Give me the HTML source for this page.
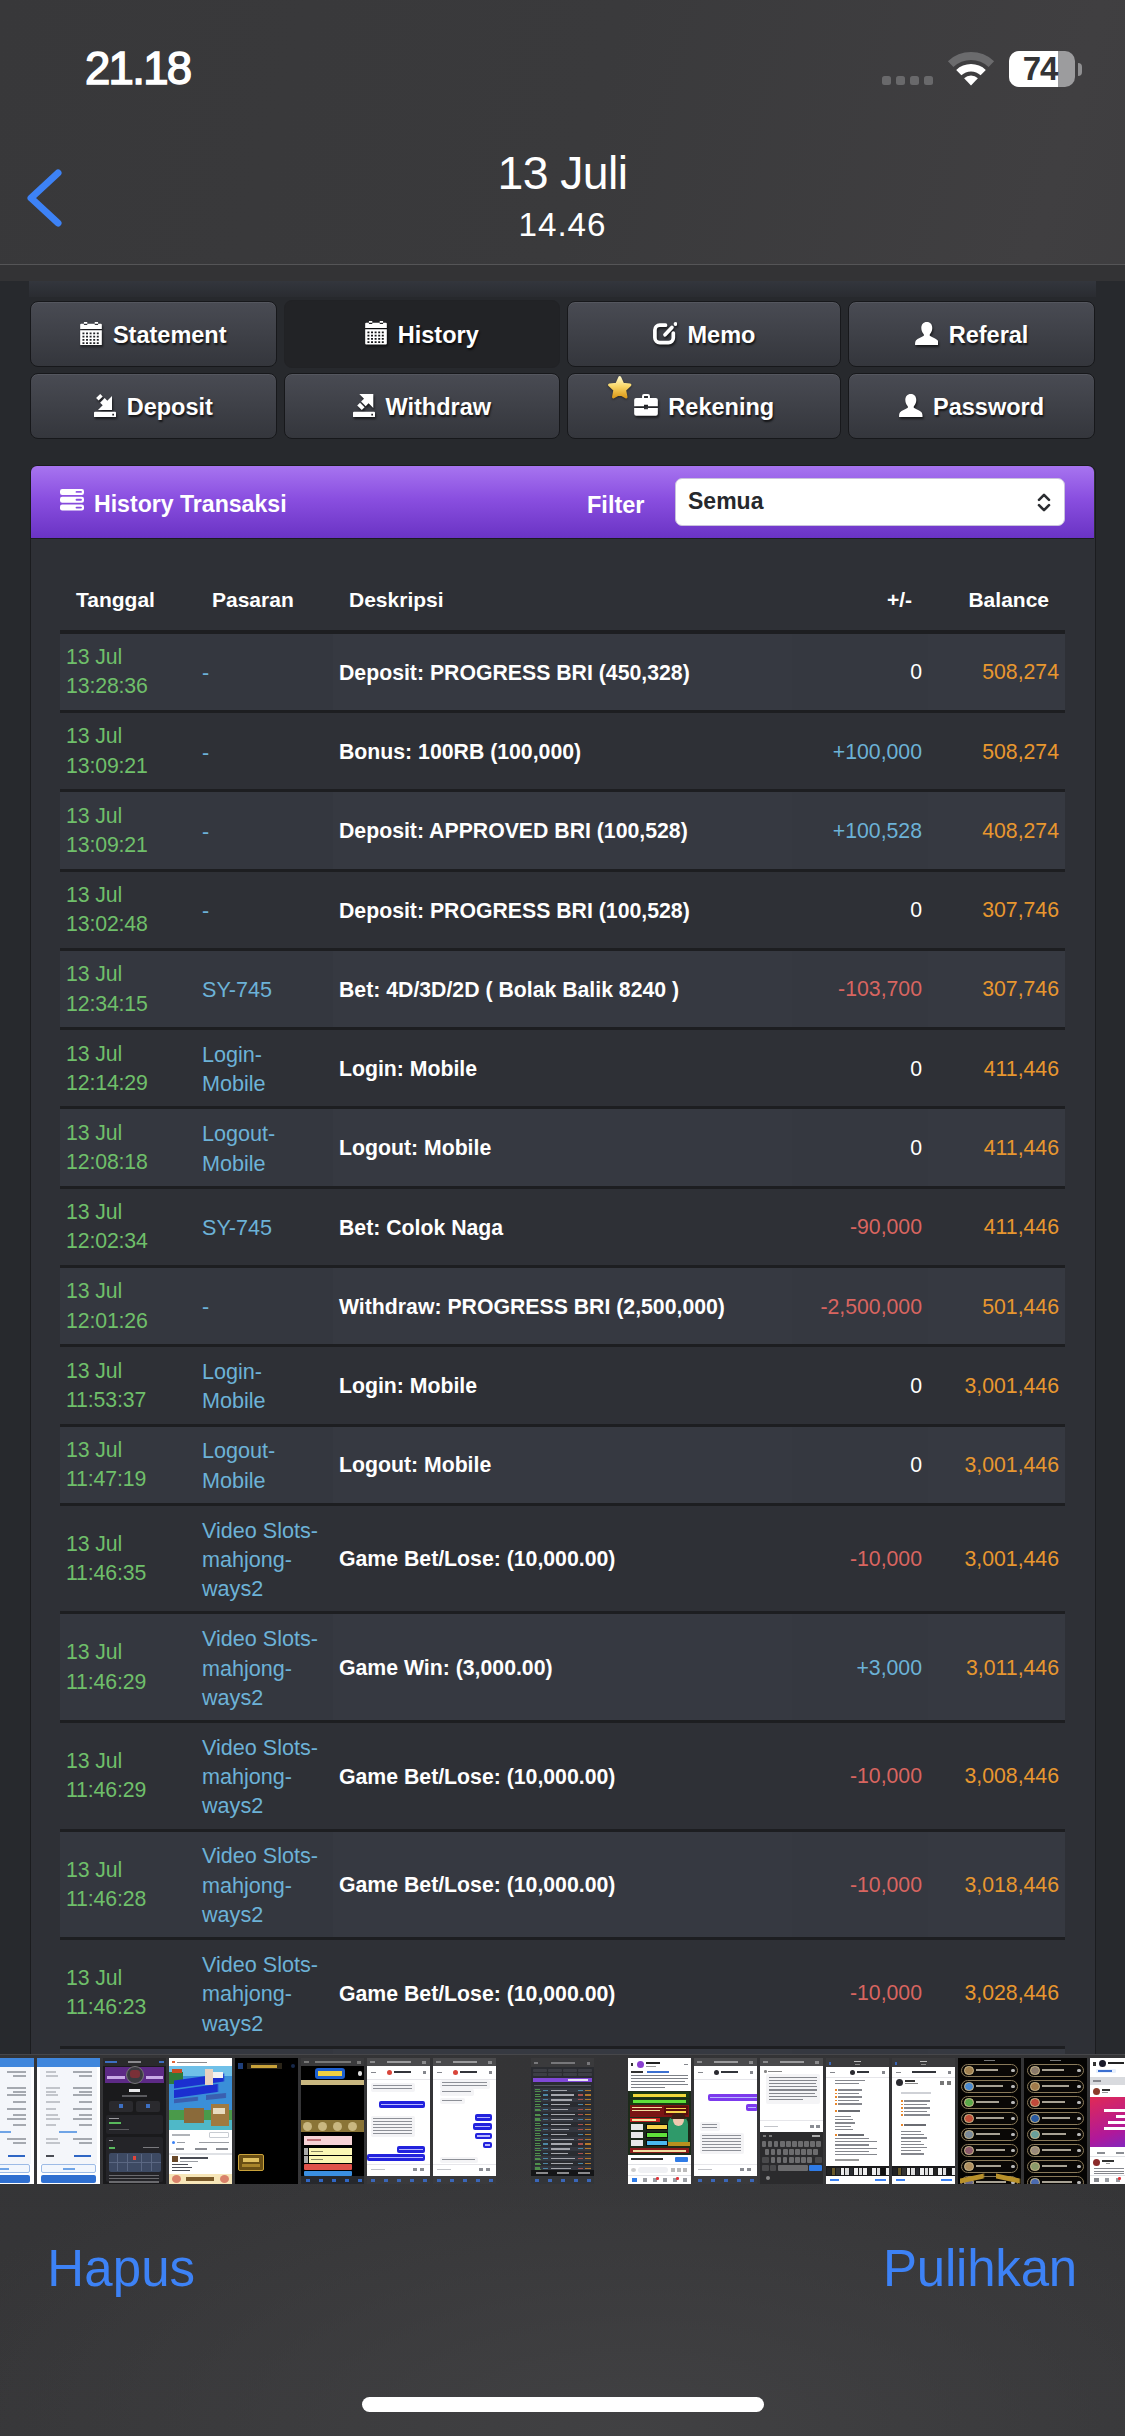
<!DOCTYPE html>
<html lang="id">
<head>
<meta charset="utf-8">
<title>13 Juli</title>
<style>
*{box-sizing:border-box;margin:0;padding:0}
html,body{width:1125px;height:2436px;overflow:hidden}
body{position:relative;background:#39393b;font-family:"Liberation Sans",sans-serif;color:#fff}
.abs{position:absolute}
#bg{left:0;top:0;width:1125px;height:2436px;background:linear-gradient(105deg,#38383a 0%,#3a3a3c 35%,#403f41 62%,#3a3a3c 85%,#38383a 100%)}
#bgb{left:0;top:2053px;width:1125px;height:383px;background:radial-gradient(ellipse 750px 330px at 56% 100%,#414143 0%,rgba(65,65,67,0) 100%),linear-gradient(180deg,#343436 0%,#363638 100%)}
/* status */
#time{left:85px;top:42px;font-size:45.5px;font-weight:normal;-webkit-text-stroke:1.5px #fff;line-height:54px;letter-spacing:-1.7px}
#title{left:0;top:146.5px;width:1125px;text-align:center;font-size:46.4px;line-height:52px;letter-spacing:-.6px}
#sub{left:0;top:207px;width:1125px;text-align:center;font-size:33.2px;line-height:36px;letter-spacing:1px}
#navline{left:0;top:264px;width:1125px;height:1px;background:#555557}
#navgap{left:0;top:265px;width:1125px;height:17px;background:#333335}
/* page */
#page{left:0;top:281px;width:1125px;height:1773px;background:#27292d;overflow:hidden}
#band{left:29px;top:0;width:1067px;height:16px;background:linear-gradient(#33363d,#2a2c31)}
.btn{position:absolute;height:66px;border:1.5px solid #17181b;border-radius:8px;background:linear-gradient(#494b53,#34363c);box-shadow:inset 0 1px 0 rgba(255,255,255,.07);font-weight:bold;font-size:23.5px;line-height:66px;text-align:center;text-shadow:1px 2px 2px rgba(0,0,0,.7);white-space:nowrap}
.btn.on{background:#222326;border-color:#212225;box-shadow:none;margin-top:-1.5px;height:68.5px;line-height:69px}
.btn svg{display:inline-block;vertical-align:middle;margin-right:10.5px;position:relative;top:-3.5px;filter:drop-shadow(1px 2px 1px rgba(0,0,0,.6))}
.r1{top:20px}.r2{top:92px}
.c1{left:30px;width:247px}.c2{left:284px;width:276px}.c3{left:567px;width:274px}.c4{left:848px;width:247px}
#panel{left:30px;top:184px;width:1066px;height:1600px;background:#2e3036;border:1.5px solid #1b1c1f;border-radius:8px 8px 0 0}
#phead{left:0;top:0;width:1063px;height:73px;border-radius:6px 6px 0 0;background:linear-gradient(#a774f0 0%,#8a4fe0 45%,#6a33c4 100%);border-bottom:1.5px solid #1b1c1f}
#ptitle{left:63px;top:21.5px;font-size:23.1px;font-weight:bold;line-height:32px}
#filter{left:556px;top:23px;font-size:23.5px;font-weight:bold;line-height:32px}
#sel{left:644px;top:12px;width:390px;height:47.5px;background:#fff;border:1.5px solid #c9c2dc;border-radius:7px;color:#26282c;font-size:23px;font-weight:bold;line-height:45.5px;padding-left:12px}
table{position:absolute;left:29px;top:103px;width:1005px;border-collapse:separate;border-spacing:0;table-layout:fixed;font-size:21.25px;line-height:29.3px}
th{font-weight:bold;font-size:21px;height:64.7px;padding:0 16px;text-align:left;vertical-align:middle;border-bottom:4.5px solid #1d1e21}
td{padding:9.45px 6px 8.25px;vertical-align:middle;border-bottom:3px solid #1d1e21}
tr.o td{background:#363941}
tr.o td.a,tr.o td.p{background:#34373f}
tr.o td.pm{background:#353840}
.r{text-align:right}
th.r{text-align:right}
td.a{color:#6fbf6a;letter-spacing:-.12px}
td.p{color:#6cb2d7;font-size:21.6px;padding-top:9.9px;padding-bottom:7.8px}
td.d{font-weight:bold;color:#fff;font-size:21.25px;padding-top:10.35px;padding-bottom:7.35px}
td.r{padding-top:10px;padding-bottom:7.7px}
td.b{color:#e8972f}
.pos{color:#6cb2d7}.neg{color:#d96560}.zero{color:#fff}
/* thumbs */
.th{position:absolute;top:2058px;width:63px;height:126px;overflow:hidden}
.th i{filter:blur(.35px)}
.th i{position:absolute;display:block}
#hapus{left:47.3px;top:2238.5px;font-size:51px;line-height:60px;color:#3d82f6;letter-spacing:.1px}
#pulih{right:48px;top:2239px;font-size:51px;line-height:60px;color:#3d82f6;letter-spacing:-.2px}
#home{left:362px;top:2397px;width:402px;height:15px;border-radius:8px;background:#fff}
</style>
</head>
<body>
<div id="bg" class="abs"></div>
<div id="bgb" class="abs"></div>
<div id="time" class="abs">21.18</div>
<div class="abs" style="left:882px;top:76px;width:9px;height:9px;border-radius:2.5px;background:#69696b"></div><div class="abs" style="left:896px;top:76px;width:9px;height:9px;border-radius:2.5px;background:#69696b"></div><div class="abs" style="left:910px;top:76px;width:9px;height:9px;border-radius:2.5px;background:#69696b"></div><div class="abs" style="left:924px;top:76px;width:9px;height:9px;border-radius:2.5px;background:#69696b"></div><svg class="abs" style="left:946px;top:50px" width="50" height="38" viewBox="0 0 50 38"><path fill="#6b6b6d" d="M1.9 11.2A33.5 33.5 0 0 1 48.1 11.2L42.6 17.0A25.5 25.5 0 0 0 7.4 17.0Z"/><path fill="#fff" d="M10.2 19.9A21.5 21.5 0 0 1 39.8 19.9L34.6 25.3A14 14 0 0 0 15.4 25.3Z"/><path fill="#fff" d="M25 35.5L18.1 28.2A10 10 0 0 1 31.9 28.2Z"/></svg><div class="abs" style="left:1009px;top:51px;width:66px;height:36px;border-radius:10px;overflow:hidden;background:#9c9c9e"><div class="abs" style="left:0;top:0;width:49px;height:36px;background:#fff"></div><div class="abs" style="left:0;top:0;width:62px;height:36px;text-align:center;font-size:33px;font-weight:bold;line-height:35px;color:#343436;letter-spacing:-1px">74</div></div><div class="abs" style="left:1077.500px;top:62.500px;width:4.500px;height:13px;border-radius:0 4px 4px 0;background:#8f8f91"></div>
<div id="title" class="abs">13 Juli</div>
<div id="sub" class="abs">14.46</div>
<svg class="abs" style="left:22px;top:164px" width="48" height="68" viewBox="0 0 48 68"><path d="M36 9 L9 34 L36 59" fill="none" stroke="#3d82f6" stroke-width="7" stroke-linecap="round" stroke-linejoin="round"/></svg>
<div id="navline" class="abs"></div>
<div id="navgap" class="abs"></div>

<div id="page" class="abs">
<div id="band" class="abs"></div>
<!--B0-->
<div class="btn r1 c1"><svg width="22" height="23.600" viewBox="0 0 22 24"><path fill="#fff" fill-rule="evenodd" d="M3.800 0h3.400v3H3.800zM14.800 0h3.400v3h-3.400zM1 1.800h20a1 1 0 0 1 1 1V7.200H0V2.800a1 1 0 0 1 1-1zM0 8.300h22V23a1 1 0 0 1-1 1H1a1 1 0 0 1-1-1zM2.30 10.60h2v1.800h-2zM5.95 10.60h2v1.800h-2zM9.60 10.60h2v1.800h-2zM13.25 10.60h2v1.800h-2zM16.90 10.60h2v1.800h-2zM2.30 13.90h2v1.800h-2zM5.95 13.90h2v1.800h-2zM9.60 13.90h2v1.800h-2zM13.25 13.90h2v1.800h-2zM16.90 13.90h2v1.800h-2zM2.30 17.20h2v1.800h-2zM5.95 17.20h2v1.800h-2zM9.60 17.20h2v1.800h-2zM13.25 17.20h2v1.800h-2zM16.90 17.20h2v1.800h-2zM2.30 20.50h2v1.800h-2zM5.95 20.50h2v1.800h-2zM9.60 20.50h2v1.800h-2zM13.25 20.50h2v1.800h-2zM16.90 20.50h2v1.800h-2z"/></svg><span>Statement</span></div>
<div class="btn r1 c2 on"><svg width="22" height="23.600" viewBox="0 0 22 24"><path fill="#fff" fill-rule="evenodd" d="M3.800 0h3.400v3H3.800zM14.800 0h3.400v3h-3.400zM1 1.800h20a1 1 0 0 1 1 1V7.200H0V2.800a1 1 0 0 1 1-1zM0 8.300h22V23a1 1 0 0 1-1 1H1a1 1 0 0 1-1-1zM2.30 10.60h2v1.800h-2zM5.95 10.60h2v1.800h-2zM9.60 10.60h2v1.800h-2zM13.25 10.60h2v1.800h-2zM16.90 10.60h2v1.800h-2zM2.30 13.90h2v1.800h-2zM5.95 13.90h2v1.800h-2zM9.60 13.90h2v1.800h-2zM13.25 13.90h2v1.800h-2zM16.90 13.90h2v1.800h-2zM2.30 17.20h2v1.800h-2zM5.95 17.20h2v1.800h-2zM9.60 17.20h2v1.800h-2zM13.25 17.20h2v1.800h-2zM16.90 17.20h2v1.800h-2zM2.30 20.50h2v1.800h-2zM5.95 20.50h2v1.800h-2zM9.60 20.50h2v1.800h-2zM13.25 20.50h2v1.800h-2zM16.90 20.50h2v1.800h-2z"/></svg><span>History</span></div>
<div class="btn r1 c3"><svg width="24.500" height="22.500" viewBox="0 0 24.500 22.500"><path fill="none" stroke="#fff" stroke-width="3.700" stroke-linecap="round" stroke-linejoin="round" d="M12.500 3.200H6.800a4.900 4.900 0 0 0-4.900 4.900v7.600a4.900 4.900 0 0 0 4.900 4.900h8.600a4.900 4.900 0 0 0 4.900-4.900V11"/><path fill="none" stroke="#fff" stroke-width="3.700" stroke-linecap="round" d="M12 12.800l6.900-7.400"/><circle cx="22.500" cy="2" r="1.900" fill="#fff"/></svg><span>Memo</span></div>
<div class="btn r1 c4"><svg width="23.600" height="23.500" viewBox="0 0 24 24"><path fill="#fff" d="M12 0c3.600 0 5.600 2.600 5.600 6.200 0 2.400-.9 4.700-2.300 6.100-.5.500-.5 1.700.2 2.100 2.200 1.200 5.800 2.600 7.400 4.200.8.800 1.100 2.400 1.100 4.400 0 .6-.4 1-1 1H1c-.6 0-1-.4-1-1 0-2 .3-3.600 1.100-4.400 1.600-1.600 5.200-3 7.400-4.200.7-.4.700-1.600.2-2.100C7.300 10.900 6.400 8.600 6.400 6.200 6.400 2.600 8.400 0 12 0z"/></svg><span>Referal</span></div>
<div class="btn r2 c1"><svg width="22" height="23.500" viewBox="0 0 22 23.500"><path fill="#fff" fill-rule="evenodd" d="M1 17.800h20a1 1 0 0 1 1 1v3.700a1 1 0 0 1-1 1H1a1 1 0 0 1-1-1v-3.700a1 1 0 0 1 1-1zM18.300 19.700h1.700v1.700h-1.700zM18 2v14H4l4.700-4.700-2.600-2.600 4.600-4.600 2.600 2.600zM6.200 0l2.500 2.500-4.100 4.100-2.500-2.500z"/></svg><span>Deposit</span></div>
<div class="btn r2 c2"><svg width="22" height="23.500" viewBox="0 0 22 23.500"><path fill="#fff" fill-rule="evenodd" d="M1 17.800h20a1 1 0 0 1 1 1v3.700a1 1 0 0 1-1 1H1a1 1 0 0 1-1-1v-3.700a1 1 0 0 1 1-1zM18.300 19.700h1.700v1.700h-1.700zM20.300 0v14l-4.700-4.700-2.900 2.900-4.600-4.600 2.900-2.900L6.300 0zM7 8.700l4.600 4.600-2.800 2.800-4.600-4.600z"/></svg><span>Withdraw</span></div>
<div class="btn r2 c3"><svg class="star" style="position:absolute;left:37.500px;top:0px;margin:0;filter:drop-shadow(0 1px 1px rgba(0,0,0,.45))" width="27.500" height="26.500" viewBox="0 0 26 25"><defs><linearGradient id="sg" x1="0" y1="0" x2="0" y2="1"><stop offset="0" stop-color="#fff6c4"/><stop offset=".45" stop-color="#f9d767"/><stop offset="1" stop-color="#dc9c1e"/></linearGradient></defs><path fill="url(#sg)" stroke="url(#sg)" stroke-width="2.600" stroke-linejoin="round" d="M13 3.200l2.900 6.300 6.800.8-5 4.700 1.300 6.800-6-3.400-6 3.400 1.300-6.800-5-4.700 6.800-.8z"/></svg><svg width="24" height="21.700" viewBox="0 0 24 22"><path fill="#fff" fill-rule="evenodd" d="M8 4V2a2 2 0 0 1 2-2h4a2 2 0 0 1 2 2v2h6a2 2 0 0 1 2 2v6.500H14V11h-4v1.500H0V6a2 2 0 0 1 2-2zM10 2v2h4V2zM0 14.200h10V15.500h4V14.200h10V20a2 2 0 0 1-2 2H2a2 2 0 0 1-2-2z"/></svg><span>Rekening</span></div>
<div class="btn r2 c4"><svg width="23.600" height="23.500" viewBox="0 0 24 24"><path fill="#fff" d="M12 0c3.600 0 5.600 2.600 5.600 6.200 0 2.400-.9 4.700-2.300 6.100-.5.500-.5 1.700.2 2.100 2.200 1.200 5.800 2.600 7.400 4.200.8.800 1.100 2.400 1.100 4.400 0 .6-.4 1-1 1H1c-.6 0-1-.4-1-1 0-2 .3-3.600 1.100-4.400 1.600-1.600 5.200-3 7.400-4.200.7-.4.700-1.600.2-2.100C7.300 10.900 6.400 8.600 6.400 6.200 6.400 2.600 8.400 0 12 0z"/></svg><span>Password</span></div>
<!--B1-->
<div id="panel" class="abs">
<div id="phead" class="abs">
<svg class="abs" style="left:29px;top:23.200px" width="24" height="21.500" viewBox="0 0 24 21.500"><path fill="#fff" fill-rule="evenodd" d="M2.200 0h19.600a2.200 2.200 0 0 1 2.200 2.200v1.500a2.200 2.200 0 0 1-2.200 2.200H2.200a2.200 2.200 0 0 1-2.200-2.200v-1.500a2.200 2.200 0 0 1 2.200-2.200zM16.500 2.05h4.500a.9.9 0 0 1 0 1.800h-4.500a.9.9 0 0 1 0-1.800zM2.200 7.8h19.600a2.200 2.200 0 0 1 2.200 2.200v1.500a2.200 2.200 0 0 1-2.200 2.200H2.200a2.200 2.200 0 0 1-2.200-2.200v-1.500a2.200 2.200 0 0 1 2.200-2.200zM16.500 9.85h4.500a.9.9 0 0 1 0 1.800h-4.500a.9.9 0 0 1 0-1.800zM2.200 15.6h19.600a2.200 2.200 0 0 1 2.200 2.200v1.500a2.200 2.200 0 0 1-2.200 2.200H2.200a2.200 2.200 0 0 1-2.200-2.200v-1.500a2.200 2.200 0 0 1 2.200-2.200zM16.500 17.65h4.500a.9.9 0 0 1 0 1.800h-4.500a.9.9 0 0 1 0-1.800z"/></svg><div id="ptitle" class="abs">History Transaksi</div><div id="filter" class="abs">Filter</div><div id="sel" class="abs">Semua<svg class="abs" style="right:12px;top:13.500px" width="16" height="19" viewBox="0 0 16 19"><path d="M3 6.800l5-5 5 5M3 12.200l5 5 5-5" fill="none" stroke="#2b2d31" stroke-width="2.600" stroke-linecap="round" stroke-linejoin="round"/></svg></div>
</div>
<table><colgroup><col style="width:136px"><col style="width:137px"><col style="width:459px"><col style="width:136px"><col style="width:137px"></colgroup>
<tr><th>Tanggal</th><th>Pasaran</th><th>Deskripsi</th><th class="r">+/-</th><th class="r">Balance</th></tr>
<tr class="o"><td class="a">13 Jul<br>13:28:36</td><td class="p">-</td><td class="d">Deposit: PROGRESS BRI (450,328)</td><td class="r pm zero">0</td><td class="r b">508,274</td></tr>
<tr class="e"><td class="a">13 Jul<br>13:09:21</td><td class="p">-</td><td class="d">Bonus: 100RB (100,000)</td><td class="r pm pos">+100,000</td><td class="r b">508,274</td></tr>
<tr class="o"><td class="a">13 Jul<br>13:09:21</td><td class="p">-</td><td class="d">Deposit: APPROVED BRI (100,528)</td><td class="r pm pos">+100,528</td><td class="r b">408,274</td></tr>
<tr class="e"><td class="a">13 Jul<br>13:02:48</td><td class="p">-</td><td class="d">Deposit: PROGRESS BRI (100,528)</td><td class="r pm zero">0</td><td class="r b">307,746</td></tr>
<tr class="o"><td class="a">13 Jul<br>12:34:15</td><td class="p">SY-745</td><td class="d">Bet: 4D/3D/2D ( Bolak Balik 8240 )</td><td class="r pm neg">-103,700</td><td class="r b">307,746</td></tr>
<tr class="e"><td class="a">13 Jul<br>12:14:29</td><td class="p">Login-<br>Mobile</td><td class="d">Login: Mobile</td><td class="r pm zero">0</td><td class="r b">411,446</td></tr>
<tr class="o"><td class="a">13 Jul<br>12:08:18</td><td class="p">Logout-<br>Mobile</td><td class="d">Logout: Mobile</td><td class="r pm zero">0</td><td class="r b">411,446</td></tr>
<tr class="e"><td class="a">13 Jul<br>12:02:34</td><td class="p">SY-745</td><td class="d">Bet: Colok Naga</td><td class="r pm neg">-90,000</td><td class="r b">411,446</td></tr>
<tr class="o"><td class="a">13 Jul<br>12:01:26</td><td class="p">-</td><td class="d">Withdraw: PROGRESS BRI (2,500,000)</td><td class="r pm neg">-2,500,000</td><td class="r b">501,446</td></tr>
<tr class="e"><td class="a">13 Jul<br>11:53:37</td><td class="p">Login-<br>Mobile</td><td class="d">Login: Mobile</td><td class="r pm zero">0</td><td class="r b">3,001,446</td></tr>
<tr class="o"><td class="a">13 Jul<br>11:47:19</td><td class="p">Logout-<br>Mobile</td><td class="d">Logout: Mobile</td><td class="r pm zero">0</td><td class="r b">3,001,446</td></tr>
<tr class="e"><td class="a">13 Jul<br>11:46:35</td><td class="p">Video Slots-<br>mahjong-<br>ways2</td><td class="d">Game Bet/Lose: (10,000.00)</td><td class="r pm neg">-10,000</td><td class="r b">3,001,446</td></tr>
<tr class="o"><td class="a">13 Jul<br>11:46:29</td><td class="p">Video Slots-<br>mahjong-<br>ways2</td><td class="d">Game Win: (3,000.00)</td><td class="r pm pos">+3,000</td><td class="r b">3,011,446</td></tr>
<tr class="e"><td class="a">13 Jul<br>11:46:29</td><td class="p">Video Slots-<br>mahjong-<br>ways2</td><td class="d">Game Bet/Lose: (10,000.00)</td><td class="r pm neg">-10,000</td><td class="r b">3,008,446</td></tr>
<tr class="o"><td class="a">13 Jul<br>11:46:28</td><td class="p">Video Slots-<br>mahjong-<br>ways2</td><td class="d">Game Bet/Lose: (10,000.00)</td><td class="r pm neg">-10,000</td><td class="r b">3,018,446</td></tr>
<tr class="e"><td class="a">13 Jul<br>11:46:23</td><td class="p">Video Slots-<br>mahjong-<br>ways2</td><td class="d">Game Bet/Lose: (10,000.00)</td><td class="r pm neg">-10,000</td><td class="r b">3,028,446</td></tr>
<tr class="o"><td class="a">13 Jul<br>11:46:20</td><td class="p">Video Slots-<br>mahjong-<br>ways2</td><td class="d">Game Bet/Lose: (10,000.00)</td><td class="r pm neg">-10,000</td><td class="r b">3,038,446</td></tr>
</table>
</div>
</div>

<div class="th" style="left:-29px;background:#ffffff"><i style="left:0px;top:0px;width:63px;height:9px;background:#3f86dc"></i><i style="left:3px;top:9px;width:57px;height:97px;background:#f4f6fa"></i><i style="left:9px;top:13px;width:10px;height:1.6px;background:#c2c5cb"></i><i style="left:36px;top:13px;width:19px;height:1.6px;background:#a5a9b0"></i><i style="left:9px;top:17px;width:12px;height:1.6px;background:#c2c5cb"></i><i style="left:42px;top:17px;width:13px;height:1.6px;background:#a5a9b0"></i><i style="left:9px;top:29px;width:14px;height:1.6px;background:#c2c5cb"></i><i style="left:36px;top:29px;width:19px;height:1.6px;background:#a5a9b0"></i><i style="left:9px;top:33px;width:10px;height:1.6px;background:#c2c5cb"></i><i style="left:42px;top:33px;width:13px;height:1.6px;background:#a5a9b0"></i><i style="left:9px;top:36px;width:12px;height:1.6px;background:#c2c5cb"></i><i style="left:36px;top:36px;width:19px;height:1.6px;background:#a5a9b0"></i><i style="left:9px;top:43px;width:14px;height:1.6px;background:#c2c5cb"></i><i style="left:42px;top:43px;width:13px;height:1.6px;background:#a5a9b0"></i><i style="left:9px;top:50px;width:10px;height:1.6px;background:#c2c5cb"></i><i style="left:36px;top:50px;width:19px;height:1.6px;background:#a5a9b0"></i><i style="left:9px;top:56px;width:12px;height:1.6px;background:#c2c5cb"></i><i style="left:42px;top:56px;width:13px;height:1.6px;background:#a5a9b0"></i><i style="left:9px;top:60px;width:14px;height:1.6px;background:#c2c5cb"></i><i style="left:36px;top:60px;width:19px;height:1.6px;background:#a5a9b0"></i><i style="left:9px;top:66px;width:10px;height:1.6px;background:#c2c5cb"></i><i style="left:42px;top:66px;width:13px;height:1.6px;background:#a5a9b0"></i><i style="left:9px;top:80px;width:12px;height:1.6px;background:#c2c5cb"></i><i style="left:36px;top:80px;width:19px;height:1.6px;background:#a5a9b0"></i><i style="left:9px;top:84px;width:14px;height:1.6px;background:#c2c5cb"></i><i style="left:42px;top:84px;width:13px;height:1.6px;background:#a5a9b0"></i><i style="left:22px;top:73px;width:18px;height:1.5px;background:#6fa4e6"></i><i style="left:9px;top:97px;width:8px;height:2.2px;background:#4a4d55"></i><i style="left:37px;top:97px;width:17px;height:2.4px;background:#2f66c4"></i><i style="left:4px;top:106px;width:55px;height:9px;background:#f2f6fc;border:1px solid #9dbbe6;border-radius:2px"></i><i style="left:26px;top:110px;width:12px;height:1.5px;background:#6fa4e6"></i><i style="left:4px;top:117px;width:55px;height:8px;background:#2f6fd0;border-radius:2px"></i></div>
<div class="th" style="left:37px;background:#ffffff"><i style="left:0px;top:0px;width:63px;height:9px;background:#3f86dc"></i><i style="left:3px;top:9px;width:57px;height:97px;background:#f4f6fa"></i><i style="left:9px;top:13px;width:10px;height:1.6px;background:#c2c5cb"></i><i style="left:36px;top:13px;width:19px;height:1.6px;background:#a5a9b0"></i><i style="left:9px;top:17px;width:12px;height:1.6px;background:#c2c5cb"></i><i style="left:42px;top:17px;width:13px;height:1.6px;background:#a5a9b0"></i><i style="left:9px;top:29px;width:14px;height:1.6px;background:#c2c5cb"></i><i style="left:36px;top:29px;width:19px;height:1.6px;background:#a5a9b0"></i><i style="left:9px;top:33px;width:10px;height:1.6px;background:#c2c5cb"></i><i style="left:42px;top:33px;width:13px;height:1.6px;background:#a5a9b0"></i><i style="left:9px;top:36px;width:12px;height:1.6px;background:#c2c5cb"></i><i style="left:36px;top:36px;width:19px;height:1.6px;background:#a5a9b0"></i><i style="left:9px;top:43px;width:14px;height:1.6px;background:#c2c5cb"></i><i style="left:42px;top:43px;width:13px;height:1.6px;background:#a5a9b0"></i><i style="left:9px;top:50px;width:10px;height:1.6px;background:#c2c5cb"></i><i style="left:36px;top:50px;width:19px;height:1.6px;background:#a5a9b0"></i><i style="left:9px;top:56px;width:12px;height:1.6px;background:#c2c5cb"></i><i style="left:42px;top:56px;width:13px;height:1.6px;background:#a5a9b0"></i><i style="left:9px;top:60px;width:14px;height:1.6px;background:#c2c5cb"></i><i style="left:36px;top:60px;width:19px;height:1.6px;background:#a5a9b0"></i><i style="left:9px;top:66px;width:10px;height:1.6px;background:#c2c5cb"></i><i style="left:42px;top:66px;width:13px;height:1.6px;background:#a5a9b0"></i><i style="left:9px;top:80px;width:12px;height:1.6px;background:#c2c5cb"></i><i style="left:36px;top:80px;width:19px;height:1.6px;background:#a5a9b0"></i><i style="left:9px;top:84px;width:14px;height:1.6px;background:#c2c5cb"></i><i style="left:42px;top:84px;width:13px;height:1.6px;background:#a5a9b0"></i><i style="left:22px;top:73px;width:18px;height:1.5px;background:#6fa4e6"></i><i style="left:9px;top:97px;width:8px;height:2.2px;background:#4a4d55"></i><i style="left:37px;top:97px;width:17px;height:2.4px;background:#2f66c4"></i><i style="left:4px;top:106px;width:55px;height:9px;background:#f2f6fc;border:1px solid #9dbbe6;border-radius:2px"></i><i style="left:26px;top:110px;width:12px;height:1.5px;background:#6fa4e6"></i><i style="left:4px;top:117px;width:55px;height:8px;background:#2f6fd0;border-radius:2px"></i></div>
<div class="th" style="left:103px;background:#1a1a1c"><i style="left:0px;top:0px;width:63px;height:8px;background:#2a2a2c"></i><i style="left:2px;top:3px;width:12px;height:1.6px;background:#3d6fc2"></i><i style="left:25px;top:3px;width:13px;height:1.6px;background:#8a8a8e"></i><i style="left:56px;top:3px;width:5px;height:1.6px;background:#3d6fc2"></i><i style="left:2px;top:9px;width:59px;height:16px;background:#5d2a86"></i><i style="left:4px;top:18px;width:18px;height:3px;background:#c9a9e6"></i><i style="left:43px;top:18px;width:17px;height:3px;background:#c9a9e6"></i><i style="left:23px;top:8px;width:18px;height:18px;background:#3a3a40;border-radius:50%;border:1px solid #777"></i><i style="left:27px;top:12px;width:10px;height:8px;background:#7a3038;border-radius:3px"></i><i style="left:26px;top:31px;width:11px;height:2.6px;background:#e8e8ea"></i><i style="left:19px;top:37px;width:25px;height:1.5px;background:#5a5a5e"></i><i style="left:6px;top:43px;width:24px;height:11px;background:#2a2a2e;border-radius:2px"></i><i style="left:33px;top:43px;width:24px;height:11px;background:#2a2a2e;border-radius:2px"></i><i style="left:16px;top:46px;width:4px;height:4px;background:#3d6fc2"></i><i style="left:43px;top:46px;width:4px;height:4px;background:#3d6fc2"></i><i style="left:3px;top:57px;width:57px;height:19px;background:#242428;border-radius:2px"></i><i style="left:6px;top:60px;width:10px;height:1.4px;background:#9a9a9e"></i><i style="left:6px;top:64px;width:12px;height:1.6px;background:#58b85c"></i><i style="left:6px;top:71px;width:20px;height:1.3px;background:#5a5a5e"></i><i style="left:3px;top:79px;width:57px;height:45px;background:#242428;border-radius:2px"></i><i style="left:6px;top:82px;width:4px;height:1.4px;background:#9a9a9e"></i><i style="left:6px;top:89px;width:6px;height:1.6px;background:#58b85c"></i><i style="left:40px;top:89px;width:16px;height:1.4px;background:#7a7a7e"></i><i style="left:6px;top:95px;width:52px;height:19px;background:#3d4a63;border-radius:2px"></i><i style="left:30px;top:98px;width:2.5px;height:3.5px;background:#e0443a"></i><i style="left:14px;top:96px;width:1px;height:17px;background:#5a6782"></i><i style="left:24px;top:96px;width:1px;height:17px;background:#5a6782"></i><i style="left:38px;top:96px;width:1px;height:17px;background:#5a6782"></i><i style="left:48px;top:96px;width:1px;height:17px;background:#5a6782"></i><i style="left:6px;top:104px;width:52px;height:1px;background:#5a6782"></i><i style="left:6px;top:117.0px;width:50px;height:1.3px;background:#6a6a6e"></i><i style="left:6px;top:120.2px;width:50px;height:1.3px;background:#6a6a6e"></i><i style="left:6px;top:123.4px;width:50px;height:1.3px;background:#6a6a6e"></i></div>
<div class="th" style="left:169px;background:#ffffff"><i style="left:0px;top:0px;width:63px;height:8px;background:#ffffff"></i><i style="left:3px;top:3px;width:3px;height:2px;background:#e0663a"></i><i style="left:8px;top:3.5px;width:30px;height:1.4px;background:#8a8a8e"></i><i style="left:0px;top:8px;width:63px;height:64px;background:#3a8fd8"></i><i style="left:0px;top:8px;width:63px;height:10px;background:#6fc0e8"></i><i style="left:0px;top:14px;width:14px;height:12px;background:#2f7a3a"></i><i style="left:3px;top:11px;width:10px;height:4px;background:#c94a20"></i><i style="left:5px;top:19px;width:50px;height:8px;background:#1b2fd0;transform:skewY(-8deg)"></i><i style="left:5px;top:29px;width:44px;height:8px;background:#1b2fd0;transform:skewY(-8deg)"></i><i style="left:36px;top:11px;width:8px;height:16px;background:#e8d2c0"></i><i style="left:44px;top:14px;width:10px;height:6px;background:#f2f2f2"></i><i style="left:5px;top:40px;width:24px;height:4px;background:#3a5fb0;transform:skewY(-6deg)"></i><i style="left:37px;top:36px;width:20px;height:5px;background:#3a5fb0;transform:skewY(-6deg)"></i><i style="left:0px;top:52px;width:63px;height:20px;background:#4a9a4a"></i><i style="left:0px;top:62px;width:63px;height:10px;background:#4fb8c8"></i><i style="left:15px;top:50px;width:20px;height:15px;background:#8a6a3a"></i><i style="left:42px;top:46px;width:18px;height:22px;background:#a07a40"></i><i style="left:44px;top:50px;width:12px;height:6px;background:#e8dcc0"></i><i style="left:0px;top:72px;width:63px;height:54px;background:#ffffff"></i><i style="left:3px;top:76px;width:18px;height:1.5px;background:#b0b3b8"></i><i style="left:40px;top:74px;width:20px;height:6px;background:#fff;border:1px solid #c8ccd2;border-radius:1px"></i><i style="left:3px;top:83px;width:3px;height:3px;background:#3b82f6;border-radius:50%"></i><i style="left:8px;top:84px;width:8px;height:1.4px;background:#9a9da3"></i><i style="left:30px;top:84px;width:30px;height:1.4px;background:#9a9da3"></i><i style="left:7px;top:90px;width:8px;height:1.5px;background:#8a8d93"></i><i style="left:26px;top:90px;width:12px;height:1.5px;background:#8a8d93"></i><i style="left:47px;top:90px;width:12px;height:1.5px;background:#8a8d93"></i><i style="left:0px;top:95px;width:63px;height:1.5px;background:#dfe1e5"></i><i style="left:3px;top:98px;width:6px;height:6px;background:#6a4a2a"></i><i style="left:11px;top:99px;width:28px;height:1.8px;background:#4a4d55"></i><i style="left:11px;top:102.5px;width:18px;height:1.3px;background:#9a9da3"></i><i style="left:3px;top:106px;width:16px;height:1.4px;background:#4a4d55"></i><i style="left:3px;top:109px;width:20px;height:1.4px;background:#4a4d55"></i><i style="left:3px;top:112px;width:18px;height:1.4px;background:#4a4d55"></i><i style="left:0px;top:116px;width:63px;height:10px;background:#f7e6b8"></i><i style="left:3px;top:117px;width:9px;height:8px;background:#d9826a;border-radius:50%"></i><i style="left:51px;top:117px;width:9px;height:8px;background:#d9826a;border-radius:50%"></i><i style="left:17px;top:119px;width:28px;height:3.5px;background:#7a5a2a"></i></div>
<div class="th" style="left:235px;background:#000000"><i style="left:3px;top:5px;width:5px;height:6px;background:#1f3f7a"></i><i style="left:12px;top:5px;width:35px;height:6px;background:#2a2418"></i><i style="left:16px;top:6.5px;width:26px;height:3px;background:#c9a23a"></i><i style="left:56px;top:6px;width:4px;height:4px;background:#16284a;border-radius:50%"></i><i style="left:3px;top:96px;width:26px;height:17px;background:#6a4f14;border-radius:2px;border:1px solid #c9a23a"></i><i style="left:8px;top:100px;width:16px;height:4px;background:#e0c060"></i><i style="left:7px;top:106px;width:18px;height:3px;background:#a8842a"></i></div>
<div class="th" style="left:301px;background:#000000"><i style="left:0px;top:0px;width:63px;height:8px;background:#3a3a3c"></i><i style="left:14px;top:3px;width:36px;height:2px;background:#777"></i><i style="left:3px;top:3px;width:5px;height:2px;background:#777"></i><i style="left:56px;top:2.5px;width:4px;height:3px;background:#777"></i><i style="left:14px;top:10px;width:30px;height:11px;background:#1d5fd0;border-radius:3px"></i><i style="left:17px;top:13px;width:24px;height:5px;background:#f0d040"></i><i style="left:57px;top:13px;width:4px;height:5px;background:#ddd;border-radius:2px"></i><i style="left:0px;top:22px;width:63px;height:5px;background:#c9b780"></i><i style="left:0px;top:62px;width:63px;height:12px;background:#8a7436"></i><i style="left:2px;top:63.5px;width:9px;height:9px;background:#c9b780;border-radius:50%"></i><i style="left:17px;top:63.5px;width:9px;height:9px;background:#c9b780;border-radius:50%"></i><i style="left:32px;top:63.5px;width:9px;height:9px;background:#c9b780;border-radius:50%"></i><i style="left:47px;top:63.5px;width:9px;height:9px;background:#c9b780;border-radius:50%"></i><i style="left:3px;top:78px;width:48px;height:9px;background:#f6d3d6"></i><i style="left:6px;top:81px;width:14px;height:1.5px;background:#c07078"></i><i style="left:3px;top:90px;width:4px;height:7px;background:#aaa"></i><i style="left:8px;top:90px;width:43px;height:7px;background:#fbf7b4"></i><i style="left:3px;top:98px;width:4px;height:7px;background:#aaa"></i><i style="left:8px;top:98px;width:43px;height:7px;background:#fbf7b4"></i><i style="left:10px;top:93px;width:12px;height:1.4px;background:#8a8660"></i><i style="left:10px;top:101px;width:12px;height:1.4px;background:#8a8660"></i><i style="left:3px;top:106px;width:48px;height:6px;background:#e0524a;border-radius:1px"></i><i style="left:3px;top:113px;width:48px;height:5px;background:#3a8fe0;border-radius:1px"></i><i style="left:0px;top:118px;width:63px;height:8px;background:#26282c"></i><i style="left:5px;top:121px;width:4px;height:2.5px;background:#2f66c4"></i><i style="left:18px;top:121px;width:4px;height:2.5px;background:#2f66c4"></i><i style="left:31px;top:121px;width:4px;height:2.5px;background:#2f66c4"></i><i style="left:44px;top:121px;width:4px;height:2.5px;background:#2f66c4"></i><i style="left:57px;top:121px;width:4px;height:2.5px;background:#2f66c4"></i></div>
<div class="th" style="left:367px;background:#ffffff"><i style="left:0px;top:0px;width:63px;height:8px;background:#4a4a4c"></i><i style="left:20px;top:3px;width:24px;height:1.8px;background:#9a9a9c"></i><i style="left:3px;top:3px;width:5px;height:1.8px;background:#8a8a8c"></i><i style="left:55px;top:2.5px;width:4px;height:3px;background:#8a8a8c"></i><i style="left:0px;top:8px;width:63px;height:13px;background:#ffffff"></i><i style="left:4px;top:14px;width:5px;height:1.2px;background:#85878d"></i><i style="left:20px;top:11.5px;width:5px;height:5px;background:#d8453a;border-radius:50%"></i><i style="left:27px;top:13px;width:17px;height:2px;background:#33353b"></i><i style="left:56px;top:13px;width:3px;height:2.5px;background:#85878d"></i><i style="left:0px;top:21px;width:63px;height:1px;background:#e6e6ea"></i><i style="left:4px;top:25px;width:44px;height:9px;background:#f4f4f6;border-radius:2px"></i><i style="left:6px;top:27px;width:39px;height:1.3px;background:#8d9097"></i><i style="left:6px;top:30px;width:39px;height:1.3px;background:#8d9097"></i><i style="left:4px;top:58px;width:44px;height:21px;background:#f4f4f6;border-radius:2px"></i><i style="left:6px;top:60px;width:39px;height:1.3px;background:#8d9097"></i><i style="left:6px;top:63px;width:39px;height:1.3px;background:#8d9097"></i><i style="left:6px;top:66px;width:39px;height:1.3px;background:#8d9097"></i><i style="left:6px;top:69px;width:39px;height:1.3px;background:#8d9097"></i><i style="left:6px;top:72px;width:39px;height:1.3px;background:#8d9097"></i><i style="left:6px;top:75px;width:39px;height:1.3px;background:#8d9097"></i><i style="left:12px;top:43px;width:46px;height:7px;background:#2222dd;border-radius:2px"></i><i style="left:14px;top:45.8px;width:42px;height:1.4px;background:#b8b8ff"></i><i style="left:30px;top:88px;width:28px;height:7px;background:#2222dd;border-radius:2px"></i><i style="left:32px;top:90.8px;width:24px;height:1.4px;background:#b8b8ff"></i><i style="left:0px;top:96px;width:58px;height:7px;background:#2222dd;border-radius:2px"></i><i style="left:2px;top:98.8px;width:54px;height:1.4px;background:#b8b8ff"></i><i style="left:0px;top:106px;width:63px;height:12px;background:#ffffff"></i><i style="left:4px;top:111px;width:14px;height:1.4px;background:#c2c4c9"></i><i style="left:46px;top:110px;width:4px;height:3px;background:#8a8d93"></i><i style="left:53px;top:110px;width:4px;height:3px;background:#8a8d93"></i><i style="left:0px;top:106px;width:63px;height:1px;background:#e6e6ea"></i><i style="left:0px;top:118px;width:63px;height:8px;background:#3a3a3c"></i><i style="left:4px;top:121px;width:4px;height:2.5px;background:#3a66b8"></i><i style="left:17px;top:121px;width:4px;height:2.5px;background:#3a66b8"></i><i style="left:30px;top:121px;width:4px;height:2.5px;background:#3a66b8"></i><i style="left:43px;top:121px;width:4px;height:2.5px;background:#3a66b8"></i><i style="left:56px;top:121px;width:4px;height:2.5px;background:#3a66b8"></i></div>
<div class="th" style="left:433px;background:#ffffff"><i style="left:0px;top:0px;width:63px;height:8px;background:#4a4a4c"></i><i style="left:20px;top:3px;width:24px;height:1.8px;background:#9a9a9c"></i><i style="left:3px;top:3px;width:5px;height:1.8px;background:#8a8a8c"></i><i style="left:55px;top:2.5px;width:4px;height:3px;background:#8a8a8c"></i><i style="left:0px;top:8px;width:63px;height:13px;background:#ffffff"></i><i style="left:4px;top:14px;width:5px;height:1.2px;background:#85878d"></i><i style="left:20px;top:11.5px;width:5px;height:5px;background:#d8453a;border-radius:50%"></i><i style="left:27px;top:13px;width:17px;height:2px;background:#33353b"></i><i style="left:56px;top:13px;width:3px;height:2.5px;background:#85878d"></i><i style="left:0px;top:21px;width:63px;height:1px;background:#e6e6ea"></i><i style="left:7px;top:22px;width:50px;height:9px;background:#f4f4f6;border-radius:2px"></i><i style="left:9px;top:24px;width:45px;height:1.3px;background:#8d9097"></i><i style="left:9px;top:27px;width:45px;height:1.3px;background:#8d9097"></i><i style="left:7px;top:31px;width:34px;height:7px;background:#f4f4f6;border-radius:2px"></i><i style="left:9px;top:33px;width:29px;height:1.3px;background:#8d9097"></i><i style="left:7px;top:40px;width:25px;height:6px;background:#f4f4f6;border-radius:2px"></i><i style="left:9px;top:42px;width:20px;height:1.3px;background:#8d9097"></i><i style="left:7px;top:99px;width:38px;height:6px;background:#f4f4f6;border-radius:2px"></i><i style="left:9px;top:101px;width:33px;height:1.3px;background:#8d9097"></i><i style="left:42px;top:56px;width:17px;height:7px;background:#2222dd;border-radius:2px"></i><i style="left:44px;top:58.8px;width:13px;height:1.4px;background:#b8b8ff"></i><i style="left:40px;top:65px;width:19px;height:7px;background:#2222dd;border-radius:2px"></i><i style="left:42px;top:67.8px;width:15px;height:1.4px;background:#b8b8ff"></i><i style="left:42px;top:75px;width:17px;height:6px;background:#2222dd;border-radius:2px"></i><i style="left:44px;top:77.3px;width:13px;height:1.4px;background:#b8b8ff"></i><i style="left:50px;top:84px;width:9px;height:6px;background:#2222dd;border-radius:2px"></i><i style="left:52px;top:86.3px;width:5px;height:1.4px;background:#b8b8ff"></i><i style="left:0px;top:106px;width:63px;height:12px;background:#ffffff"></i><i style="left:4px;top:111px;width:14px;height:1.4px;background:#c2c4c9"></i><i style="left:46px;top:110px;width:4px;height:3px;background:#8a8d93"></i><i style="left:53px;top:110px;width:4px;height:3px;background:#8a8d93"></i><i style="left:0px;top:106px;width:63px;height:1px;background:#e6e6ea"></i><i style="left:0px;top:118px;width:63px;height:8px;background:#3a3a3c"></i><i style="left:4px;top:121px;width:4px;height:2.5px;background:#3a66b8"></i><i style="left:17px;top:121px;width:4px;height:2.5px;background:#3a66b8"></i><i style="left:30px;top:121px;width:4px;height:2.5px;background:#3a66b8"></i><i style="left:43px;top:121px;width:4px;height:2.5px;background:#3a66b8"></i><i style="left:56px;top:121px;width:4px;height:2.5px;background:#3a66b8"></i></div>
<div class="th" style="left:531px;background:#2a2c31"><i style="left:0px;top:0px;width:63px;height:9px;background:#3a3a3c"></i><i style="left:20px;top:4px;width:24px;height:1.8px;background:#77777a"></i><i style="left:3px;top:4px;width:4px;height:1.8px;background:#77777a"></i><i style="left:56px;top:3.5px;width:3px;height:3px;background:#77777a"></i><i style="left:2px;top:11px;width:14px;height:3.2px;background:#3c3e45;border-radius:1px"></i><i style="left:17px;top:11px;width:14px;height:3.2px;background:#3c3e45;border-radius:1px"></i><i style="left:32px;top:11px;width:14px;height:3.2px;background:#3c3e45;border-radius:1px"></i><i style="left:47px;top:11px;width:14px;height:3.2px;background:#3c3e45;border-radius:1px"></i><i style="left:2px;top:15px;width:14px;height:3.2px;background:#3c3e45;border-radius:1px"></i><i style="left:17px;top:15px;width:14px;height:3.2px;background:#3c3e45;border-radius:1px"></i><i style="left:32px;top:15px;width:14px;height:3.2px;background:#3c3e45;border-radius:1px"></i><i style="left:47px;top:15px;width:14px;height:3.2px;background:#3c3e45;border-radius:1px"></i><i style="left:2px;top:20px;width:59px;height:4px;background:#7f48d6"></i><i style="left:37px;top:21px;width:20px;height:2.2px;background:#e8e4f4"></i><i style="left:3px;top:27px;width:57px;height:1.2px;background:#55585f"></i><i style="left:3px;top:29.8px;width:57px;height:4.6px;background:#34373f"></i><i style="left:4px;top:31.0px;width:5px;height:1.2px;background:#4f8f4c"></i><i style="left:4px;top:32.8px;width:6px;height:1.1px;background:#4f8f4c"></i><i style="left:12px;top:31.5px;width:5px;height:1.2px;background:#4d86a3"></i><i style="left:20px;top:31.5px;width:16px;height:1.3px;background:#a5a7ad"></i><i style="left:47px;top:31.5px;width:5px;height:1.2px;background:#4d86a3"></i><i style="left:54px;top:31.5px;width:6px;height:1.2px;background:#b57a2c"></i><i style="left:4px;top:35.9px;width:5px;height:1.2px;background:#4f8f4c"></i><i style="left:4px;top:37.699999999999996px;width:6px;height:1.1px;background:#4f8f4c"></i><i style="left:12px;top:36.4px;width:5px;height:1.2px;background:#4d86a3"></i><i style="left:20px;top:36.4px;width:23px;height:1.3px;background:#a5a7ad"></i><i style="left:47px;top:36.4px;width:5px;height:1.2px;background:#a8524f"></i><i style="left:54px;top:36.4px;width:6px;height:1.2px;background:#b57a2c"></i><i style="left:3px;top:39.599999999999994px;width:57px;height:4.6px;background:#34373f"></i><i style="left:4px;top:40.8px;width:5px;height:1.2px;background:#4f8f4c"></i><i style="left:4px;top:42.599999999999994px;width:6px;height:1.1px;background:#4f8f4c"></i><i style="left:12px;top:41.3px;width:5px;height:1.2px;background:#4d86a3"></i><i style="left:20px;top:41.3px;width:21px;height:1.3px;background:#a5a7ad"></i><i style="left:47px;top:41.3px;width:5px;height:1.2px;background:#a8524f"></i><i style="left:54px;top:41.3px;width:6px;height:1.2px;background:#b57a2c"></i><i style="left:4px;top:45.7px;width:5px;height:1.2px;background:#4f8f4c"></i><i style="left:4px;top:47.5px;width:6px;height:1.1px;background:#4f8f4c"></i><i style="left:12px;top:46.2px;width:5px;height:1.2px;background:#4d86a3"></i><i style="left:20px;top:46.2px;width:19px;height:1.3px;background:#a5a7ad"></i><i style="left:47px;top:46.2px;width:5px;height:1.2px;background:#4d86a3"></i><i style="left:54px;top:46.2px;width:6px;height:1.2px;background:#b57a2c"></i><i style="left:3px;top:49.4px;width:57px;height:4.6px;background:#34373f"></i><i style="left:4px;top:50.6px;width:5px;height:1.2px;background:#4f8f4c"></i><i style="left:4px;top:52.4px;width:6px;height:1.1px;background:#4f8f4c"></i><i style="left:12px;top:51.1px;width:5px;height:1.2px;background:#4d86a3"></i><i style="left:20px;top:51.1px;width:17px;height:1.3px;background:#a5a7ad"></i><i style="left:47px;top:51.1px;width:5px;height:1.2px;background:#a8524f"></i><i style="left:54px;top:51.1px;width:6px;height:1.2px;background:#b57a2c"></i><i style="left:4px;top:55.5px;width:5px;height:1.2px;background:#4f8f4c"></i><i style="left:4px;top:57.3px;width:6px;height:1.1px;background:#4f8f4c"></i><i style="left:12px;top:56.0px;width:5px;height:1.2px;background:#4d86a3"></i><i style="left:20px;top:56.0px;width:24px;height:1.3px;background:#a5a7ad"></i><i style="left:47px;top:56.0px;width:5px;height:1.2px;background:#a8524f"></i><i style="left:54px;top:56.0px;width:6px;height:1.2px;background:#b57a2c"></i><i style="left:3px;top:59.2px;width:57px;height:4.6px;background:#34373f"></i><i style="left:4px;top:60.400000000000006px;width:5px;height:1.2px;background:#4f8f4c"></i><i style="left:4px;top:62.2px;width:6px;height:1.1px;background:#4f8f4c"></i><i style="left:12px;top:60.900000000000006px;width:5px;height:1.2px;background:#4d86a3"></i><i style="left:20px;top:60.900000000000006px;width:22px;height:1.3px;background:#a5a7ad"></i><i style="left:47px;top:60.900000000000006px;width:5px;height:1.2px;background:#4d86a3"></i><i style="left:54px;top:60.900000000000006px;width:6px;height:1.2px;background:#b57a2c"></i><i style="left:4px;top:65.30000000000001px;width:5px;height:1.2px;background:#4f8f4c"></i><i style="left:4px;top:67.10000000000001px;width:6px;height:1.1px;background:#4f8f4c"></i><i style="left:12px;top:65.80000000000001px;width:5px;height:1.2px;background:#4d86a3"></i><i style="left:20px;top:65.80000000000001px;width:20px;height:1.3px;background:#a5a7ad"></i><i style="left:47px;top:65.80000000000001px;width:5px;height:1.2px;background:#a8524f"></i><i style="left:54px;top:65.80000000000001px;width:6px;height:1.2px;background:#b57a2c"></i><i style="left:3px;top:69.0px;width:57px;height:4.6px;background:#34373f"></i><i style="left:4px;top:70.2px;width:5px;height:1.2px;background:#4f8f4c"></i><i style="left:4px;top:72.0px;width:6px;height:1.1px;background:#4f8f4c"></i><i style="left:12px;top:70.7px;width:5px;height:1.2px;background:#4d86a3"></i><i style="left:20px;top:70.7px;width:18px;height:1.3px;background:#a5a7ad"></i><i style="left:47px;top:70.7px;width:5px;height:1.2px;background:#a8524f"></i><i style="left:54px;top:70.7px;width:6px;height:1.2px;background:#b57a2c"></i><i style="left:4px;top:75.1px;width:5px;height:1.2px;background:#4f8f4c"></i><i style="left:4px;top:76.89999999999999px;width:6px;height:1.1px;background:#4f8f4c"></i><i style="left:12px;top:75.6px;width:5px;height:1.2px;background:#4d86a3"></i><i style="left:20px;top:75.6px;width:16px;height:1.3px;background:#a5a7ad"></i><i style="left:47px;top:75.6px;width:5px;height:1.2px;background:#4d86a3"></i><i style="left:54px;top:75.6px;width:6px;height:1.2px;background:#b57a2c"></i><i style="left:3px;top:78.8px;width:57px;height:4.6px;background:#34373f"></i><i style="left:4px;top:80.0px;width:5px;height:1.2px;background:#4f8f4c"></i><i style="left:4px;top:81.8px;width:6px;height:1.1px;background:#4f8f4c"></i><i style="left:12px;top:80.5px;width:5px;height:1.2px;background:#4d86a3"></i><i style="left:20px;top:80.5px;width:23px;height:1.3px;background:#a5a7ad"></i><i style="left:47px;top:80.5px;width:5px;height:1.2px;background:#a8524f"></i><i style="left:54px;top:80.5px;width:6px;height:1.2px;background:#b57a2c"></i><i style="left:4px;top:84.9px;width:5px;height:1.2px;background:#4f8f4c"></i><i style="left:4px;top:86.7px;width:6px;height:1.1px;background:#4f8f4c"></i><i style="left:12px;top:85.4px;width:5px;height:1.2px;background:#4d86a3"></i><i style="left:20px;top:85.4px;width:21px;height:1.3px;background:#a5a7ad"></i><i style="left:47px;top:85.4px;width:5px;height:1.2px;background:#a8524f"></i><i style="left:54px;top:85.4px;width:6px;height:1.2px;background:#b57a2c"></i><i style="left:3px;top:88.60000000000001px;width:57px;height:4.6px;background:#34373f"></i><i style="left:4px;top:89.80000000000001px;width:5px;height:1.2px;background:#4f8f4c"></i><i style="left:4px;top:91.60000000000001px;width:6px;height:1.1px;background:#4f8f4c"></i><i style="left:12px;top:90.30000000000001px;width:5px;height:1.2px;background:#4d86a3"></i><i style="left:20px;top:90.30000000000001px;width:19px;height:1.3px;background:#a5a7ad"></i><i style="left:47px;top:90.30000000000001px;width:5px;height:1.2px;background:#4d86a3"></i><i style="left:54px;top:90.30000000000001px;width:6px;height:1.2px;background:#b57a2c"></i><i style="left:4px;top:94.7px;width:5px;height:1.2px;background:#4f8f4c"></i><i style="left:4px;top:96.5px;width:6px;height:1.1px;background:#4f8f4c"></i><i style="left:12px;top:95.2px;width:5px;height:1.2px;background:#4d86a3"></i><i style="left:20px;top:95.2px;width:17px;height:1.3px;background:#a5a7ad"></i><i style="left:47px;top:95.2px;width:5px;height:1.2px;background:#a8524f"></i><i style="left:54px;top:95.2px;width:6px;height:1.2px;background:#b57a2c"></i><i style="left:3px;top:98.4px;width:57px;height:4.6px;background:#34373f"></i><i style="left:4px;top:99.60000000000001px;width:5px;height:1.2px;background:#4f8f4c"></i><i style="left:4px;top:101.4px;width:6px;height:1.1px;background:#4f8f4c"></i><i style="left:12px;top:100.10000000000001px;width:5px;height:1.2px;background:#4d86a3"></i><i style="left:20px;top:100.10000000000001px;width:24px;height:1.3px;background:#a5a7ad"></i><i style="left:47px;top:100.10000000000001px;width:5px;height:1.2px;background:#a8524f"></i><i style="left:54px;top:100.10000000000001px;width:6px;height:1.2px;background:#b57a2c"></i><i style="left:4px;top:104.5px;width:5px;height:1.2px;background:#4f8f4c"></i><i style="left:4px;top:106.3px;width:6px;height:1.1px;background:#4f8f4c"></i><i style="left:12px;top:105.0px;width:5px;height:1.2px;background:#4d86a3"></i><i style="left:20px;top:105.0px;width:22px;height:1.3px;background:#a5a7ad"></i><i style="left:47px;top:105.0px;width:5px;height:1.2px;background:#4d86a3"></i><i style="left:54px;top:105.0px;width:6px;height:1.2px;background:#b57a2c"></i><i style="left:3px;top:108.2px;width:57px;height:4.6px;background:#34373f"></i><i style="left:4px;top:109.4px;width:5px;height:1.2px;background:#4f8f4c"></i><i style="left:4px;top:111.2px;width:6px;height:1.1px;background:#4f8f4c"></i><i style="left:12px;top:109.9px;width:5px;height:1.2px;background:#4d86a3"></i><i style="left:20px;top:109.9px;width:20px;height:1.3px;background:#a5a7ad"></i><i style="left:47px;top:109.9px;width:5px;height:1.2px;background:#a8524f"></i><i style="left:54px;top:109.9px;width:6px;height:1.2px;background:#b57a2c"></i><i style="left:0px;top:112px;width:63px;height:6px;background:#141517"></i><i style="left:5px;top:114px;width:12px;height:1.5px;background:#8a8a8c"></i><i style="left:26px;top:114px;width:12px;height:1.5px;background:#8a8a8c"></i><i style="left:47px;top:114px;width:12px;height:1.5px;background:#8a8a8c"></i><i style="left:0px;top:118px;width:63px;height:8px;background:#333538"></i><i style="left:4px;top:121px;width:4px;height:2.5px;background:#3a66b8"></i><i style="left:17px;top:121px;width:4px;height:2.5px;background:#3a66b8"></i><i style="left:30px;top:121px;width:4px;height:2.5px;background:#3a66b8"></i><i style="left:43px;top:121px;width:4px;height:2.5px;background:#3a66b8"></i><i style="left:56px;top:121px;width:4px;height:2.5px;background:#3a66b8"></i></div>
<div class="th" style="left:628px;background:#ffffff"><i style="left:3px;top:5px;width:2px;height:3px;background:#333"></i><i style="left:9px;top:3px;width:7px;height:7px;background:#8a3fd0;border-radius:50%"></i><i style="left:18px;top:4px;width:14px;height:2px;background:#222"></i><i style="left:18px;top:7.5px;width:10px;height:1.3px;background:#999"></i><i style="left:56px;top:6px;width:4px;height:1.3px;background:#85878d"></i><i style="left:3px;top:13px;width:12px;height:1.5px;background:#333"></i><i style="left:19px;top:13px;width:22px;height:1.5px;background:#3b6fd0"></i><i style="left:3px;top:16.5px;width:57px;height:1.4px;background:#7d8087"></i><i style="left:3px;top:19.5px;width:57px;height:1.4px;background:#7d8087"></i><i style="left:3px;top:22.5px;width:54.1px;height:1.4px;background:#7d8087"></i><i style="left:3px;top:25.5px;width:57px;height:1.4px;background:#7d8087"></i><i style="left:3px;top:28.5px;width:34.2px;height:1.4px;background:#7d8087"></i><i style="left:0px;top:33px;width:63px;height:64px;background:#1c2a1a"></i><i style="left:2px;top:34px;width:59px;height:6px;background:#1a3a14"></i><i style="left:5px;top:35.5px;width:53px;height:3px;background:#f0d83a"></i><i style="left:2px;top:40.5px;width:59px;height:6px;background:#1a3a14"></i><i style="left:5px;top:42px;width:53px;height:3px;background:#5fe03a"></i><i style="left:2px;top:47px;width:59px;height:12px;background:#7a1414"></i><i style="left:4px;top:48.5px;width:30px;height:1.6px;background:#f0e0a0"></i><i style="left:4px;top:52px;width:28px;height:1.4px;background:#f0e0a0"></i><i style="left:36px;top:48px;width:24px;height:9px;background:#5a0e0e"></i><i style="left:38px;top:49.5px;width:20px;height:1.5px;background:#f7d24a"></i><i style="left:38px;top:53px;width:20px;height:1.5px;background:#f7d24a"></i><i style="left:2px;top:60px;width:30px;height:4px;background:#c02020"></i><i style="left:4px;top:61px;width:24px;height:1.8px;background:#f7e6a0"></i><i style="left:40px;top:58px;width:20px;height:30px;background:#2f9a6a;border-radius:8px 8px 0 0"></i><i style="left:45px;top:56px;width:11px;height:12px;background:#f0c8b0;border-radius:50%"></i><i style="left:43px;top:55px;width:15px;height:6px;background:#3a1e14;border-radius:6px 6px 0 0"></i><i style="left:3px;top:66px;width:12px;height:6px;background:#e8e8e8"></i><i style="left:18px;top:66px;width:22px;height:6px;background:#0c0c0c"></i><i style="left:19px;top:67px;width:20px;height:4px;background:#f7d24a"></i><i style="left:3px;top:74px;width:12px;height:6px;background:#e8e8e8"></i><i style="left:18px;top:74px;width:22px;height:6px;background:#0c0c0c"></i><i style="left:19px;top:75px;width:20px;height:4px;background:#5fe03a"></i><i style="left:3px;top:82px;width:12px;height:6px;background:#e8e8e8"></i><i style="left:18px;top:82px;width:22px;height:6px;background:#0c0c0c"></i><i style="left:19px;top:83px;width:20px;height:4px;background:#4ab8f0"></i><i style="left:40px;top:84px;width:22px;height:4px;background:#b8901e"></i><i style="left:2px;top:90px;width:59px;height:5px;background:#8a1a1a"></i><i style="left:5px;top:91.5px;width:53px;height:2px;background:#f0e0a0"></i><i style="left:3px;top:100px;width:32px;height:1.6px;background:#333"></i><i style="left:47px;top:98.5px;width:13px;height:5px;background:#2f7be6;border-radius:1px"></i><i style="left:0px;top:106px;width:63px;height:1px;background:#e0e2e6"></i><i style="left:3px;top:110px;width:5px;height:4px;background:#ccc;border-radius:50%"></i><i style="left:10px;top:109px;width:30px;height:6px;background:#f0f1f4;border-radius:3px"></i><i style="left:43px;top:110px;width:4px;height:4px;background:#bbb"></i><i style="left:49px;top:110px;width:4px;height:4px;background:#bbb"></i><i style="left:55px;top:110px;width:4px;height:4px;background:#bbb"></i><i style="left:0px;top:117px;width:63px;height:1px;background:#e0e2e6"></i><i style="left:4px;top:120px;width:5px;height:4px;background:#2f7be6"></i><i style="left:15px;top:120px;width:4px;height:4px;background:#9a9da3"></i><i style="left:25px;top:120px;width:4px;height:4px;background:#9a9da3"></i><i style="left:35px;top:120px;width:4px;height:4px;background:#9a9da3"></i><i style="left:45px;top:120px;width:4px;height:4px;background:#9a9da3"></i><i style="left:55px;top:120px;width:4px;height:4px;background:#9a9da3"></i><i style="left:28px;top:119px;width:2.5px;height:2.5px;background:#e0343a;border-radius:50%"></i><i style="left:48px;top:119px;width:2.5px;height:2.5px;background:#e0343a;border-radius:50%"></i></div>
<div class="th" style="left:694px;background:#ffffff"><i style="left:0px;top:0px;width:63px;height:8px;background:#4a4a4c"></i><i style="left:20px;top:3px;width:24px;height:1.8px;background:#9a9a9c"></i><i style="left:3px;top:3px;width:5px;height:1.8px;background:#8a8a8c"></i><i style="left:55px;top:2.5px;width:4px;height:3px;background:#8a8a8c"></i><i style="left:0px;top:8px;width:63px;height:13px;background:#ffffff"></i><i style="left:4px;top:14px;width:5px;height:1.2px;background:#85878d"></i><i style="left:20px;top:11.5px;width:5px;height:5px;background:#2a2a30;border-radius:50%"></i><i style="left:27px;top:13px;width:17px;height:2px;background:#33353b"></i><i style="left:56px;top:13px;width:3px;height:2.5px;background:#85878d"></i><i style="left:0px;top:21px;width:63px;height:1px;background:#e6e6ea"></i><i style="left:6px;top:64px;width:20px;height:9px;background:#f4f4f6;border-radius:2px"></i><i style="left:8px;top:66px;width:15px;height:1.3px;background:#8d9097"></i><i style="left:8px;top:69px;width:15px;height:1.3px;background:#8d9097"></i><i style="left:6px;top:75px;width:44px;height:21px;background:#f4f4f6;border-radius:2px"></i><i style="left:8px;top:77px;width:39px;height:1.3px;background:#8d9097"></i><i style="left:8px;top:80px;width:39px;height:1.3px;background:#8d9097"></i><i style="left:8px;top:83px;width:39px;height:1.3px;background:#8d9097"></i><i style="left:8px;top:86px;width:39px;height:1.3px;background:#8d9097"></i><i style="left:8px;top:89px;width:39px;height:1.3px;background:#8d9097"></i><i style="left:8px;top:92px;width:39px;height:1.3px;background:#8d9097"></i><i style="left:14px;top:36px;width:60px;height:7px;background:#7c3aed;border-radius:2px"></i><i style="left:16px;top:38.8px;width:56px;height:1.4px;background:#b8b8ff"></i><i style="left:52px;top:46px;width:12px;height:7px;background:#7c3aed;border-radius:2px"></i><i style="left:54px;top:48.8px;width:8px;height:1.4px;background:#b8b8ff"></i><i style="left:0px;top:106px;width:63px;height:12px;background:#ffffff"></i><i style="left:4px;top:111px;width:14px;height:1.4px;background:#c2c4c9"></i><i style="left:46px;top:110px;width:4px;height:3px;background:#8a8d93"></i><i style="left:53px;top:110px;width:4px;height:3px;background:#8a8d93"></i><i style="left:0px;top:106px;width:63px;height:1px;background:#e6e6ea"></i><i style="left:0px;top:118px;width:63px;height:8px;background:#3a3a3c"></i><i style="left:4px;top:121px;width:4px;height:2.5px;background:#3a66b8"></i><i style="left:17px;top:121px;width:4px;height:2.5px;background:#3a66b8"></i><i style="left:30px;top:121px;width:4px;height:2.5px;background:#3a66b8"></i><i style="left:43px;top:121px;width:4px;height:2.5px;background:#3a66b8"></i><i style="left:56px;top:121px;width:4px;height:2.5px;background:#3a66b8"></i></div>
<div class="th" style="left:760px;background:#ffffff"><i style="left:0px;top:0px;width:63px;height:8px;background:#4a4a4c"></i><i style="left:20px;top:3px;width:24px;height:1.8px;background:#9a9a9c"></i><i style="left:3px;top:3px;width:5px;height:1.8px;background:#8a8a8c"></i><i style="left:55px;top:2.5px;width:4px;height:3px;background:#8a8a8c"></i><i style="left:4px;top:12px;width:2.5px;height:2.5px;background:#888;border-radius:50%"></i><i style="left:8px;top:12.5px;width:14px;height:1.4px;background:#888"></i><i style="left:6px;top:16px;width:54px;height:30px;background:#f4f4f6;border-radius:2px"></i><i style="left:9px;top:18.5px;width:48px;height:1.4px;background:#85878d"></i><i style="left:9px;top:21.7px;width:48px;height:1.4px;background:#85878d"></i><i style="left:9px;top:24.9px;width:46.6px;height:1.4px;background:#85878d"></i><i style="left:9px;top:28.1px;width:48px;height:1.4px;background:#85878d"></i><i style="left:9px;top:31.3px;width:48px;height:1.4px;background:#85878d"></i><i style="left:9px;top:34.5px;width:45.6px;height:1.4px;background:#85878d"></i><i style="left:9px;top:37.7px;width:48px;height:1.4px;background:#85878d"></i><i style="left:9px;top:40.900000000000006px;width:33.6px;height:1.4px;background:#85878d"></i><i style="left:0px;top:62px;width:63px;height:1px;background:#e6e6ea"></i><i style="left:4px;top:68px;width:14px;height:1.4px;background:#c2c4c9"></i><i style="left:50px;top:67px;width:4px;height:3px;background:#8a8d93"></i><i style="left:56px;top:67px;width:4px;height:3px;background:#8a8d93"></i><i style="left:0px;top:74px;width:63px;height:52px;background:#2b2b2d"></i><i style="left:3px;top:77px;width:3px;height:2px;background:#777"></i><i style="left:9px;top:77px;width:3px;height:2px;background:#777"></i><i style="left:52px;top:77px;width:8px;height:1.6px;background:#aaa"></i><i style="left:1.5px;top:83px;width:4.9px;height:6.4px;background:#6c6c6e;border-radius:1px"></i><i style="left:7.55px;top:83px;width:4.9px;height:6.4px;background:#6c6c6e;border-radius:1px"></i><i style="left:13.6px;top:83px;width:4.9px;height:6.4px;background:#6c6c6e;border-radius:1px"></i><i style="left:19.65px;top:83px;width:4.9px;height:6.4px;background:#6c6c6e;border-radius:1px"></i><i style="left:25.7px;top:83px;width:4.9px;height:6.4px;background:#6c6c6e;border-radius:1px"></i><i style="left:31.75px;top:83px;width:4.9px;height:6.4px;background:#6c6c6e;border-radius:1px"></i><i style="left:37.8px;top:83px;width:4.9px;height:6.4px;background:#6c6c6e;border-radius:1px"></i><i style="left:43.85px;top:83px;width:4.9px;height:6.4px;background:#6c6c6e;border-radius:1px"></i><i style="left:49.9px;top:83px;width:4.9px;height:6.4px;background:#6c6c6e;border-radius:1px"></i><i style="left:55.949999999999996px;top:83px;width:4.9px;height:6.4px;background:#6c6c6e;border-radius:1px"></i><i style="left:4.5px;top:91px;width:4.9px;height:6.4px;background:#6c6c6e;border-radius:1px"></i><i style="left:10.55px;top:91px;width:4.9px;height:6.4px;background:#6c6c6e;border-radius:1px"></i><i style="left:16.6px;top:91px;width:4.9px;height:6.4px;background:#6c6c6e;border-radius:1px"></i><i style="left:22.65px;top:91px;width:4.9px;height:6.4px;background:#6c6c6e;border-radius:1px"></i><i style="left:28.7px;top:91px;width:4.9px;height:6.4px;background:#6c6c6e;border-radius:1px"></i><i style="left:34.75px;top:91px;width:4.9px;height:6.4px;background:#6c6c6e;border-radius:1px"></i><i style="left:40.8px;top:91px;width:4.9px;height:6.4px;background:#6c6c6e;border-radius:1px"></i><i style="left:46.85px;top:91px;width:4.9px;height:6.4px;background:#6c6c6e;border-radius:1px"></i><i style="left:52.9px;top:91px;width:4.9px;height:6.4px;background:#6c6c6e;border-radius:1px"></i><i style="left:10.5px;top:99px;width:4.9px;height:6.4px;background:#6c6c6e;border-radius:1px"></i><i style="left:16.55px;top:99px;width:4.9px;height:6.4px;background:#6c6c6e;border-radius:1px"></i><i style="left:22.6px;top:99px;width:4.9px;height:6.4px;background:#6c6c6e;border-radius:1px"></i><i style="left:28.65px;top:99px;width:4.9px;height:6.4px;background:#6c6c6e;border-radius:1px"></i><i style="left:34.7px;top:99px;width:4.9px;height:6.4px;background:#6c6c6e;border-radius:1px"></i><i style="left:40.75px;top:99px;width:4.9px;height:6.4px;background:#6c6c6e;border-radius:1px"></i><i style="left:46.8px;top:99px;width:4.9px;height:6.4px;background:#6c6c6e;border-radius:1px"></i><i style="left:1.5px;top:99px;width:7px;height:6.4px;background:#4a4a4c;border-radius:1px"></i><i style="left:54.5px;top:99px;width:7px;height:6.4px;background:#4a4a4c;border-radius:1px"></i><i style="left:1.5px;top:107px;width:7px;height:6.4px;background:#4a4a4c;border-radius:1px"></i><i style="left:10px;top:107px;width:6px;height:6.4px;background:#4a4a4c;border-radius:1px"></i><i style="left:17.5px;top:107px;width:30px;height:6.4px;background:#6c6c6e;border-radius:1px"></i><i style="left:49px;top:107px;width:12.5px;height:6.4px;background:#2f7be6;border-radius:1px"></i><i style="left:6px;top:118px;width:4px;height:4px;background:#888;border-radius:50%"></i></div>
<div class="th" style="left:826px;background:#ffffff"><i style="left:0px;top:0px;width:63px;height:9px;background:#3a3a3c"></i><i style="left:3px;top:4px;width:2px;height:2.5px;background:#3a66b8"></i><i style="left:28px;top:2.5px;width:7px;height:1.6px;background:#bbb"></i><i style="left:29px;top:5.5px;width:5px;height:1.2px;background:#888"></i><i style="left:4px;top:14px;width:5px;height:1.2px;background:#85878d"></i><i style="left:56px;top:13px;width:3px;height:2.5px;background:#85878d"></i><i style="left:24px;top:11.5px;width:5px;height:5px;background:#2a2a30;border-radius:50%"></i><i style="left:31px;top:13px;width:12px;height:2px;background:#33353b"></i><i style="left:0px;top:19px;width:63px;height:1px;background:#e6e6ea"></i><i style="left:9px;top:22px;width:30px;height:1.4px;background:#85878d"></i><i style="left:9px;top:25px;width:24px;height:1.4px;background:#85878d"></i><i style="left:9px;top:31.0px;width:2px;height:1.6px;background:#e8862a"></i><i style="left:12px;top:31.0px;width:24px;height:1.5px;background:#85878d"></i><i style="left:9px;top:34.6px;width:2px;height:1.6px;background:#e8862a"></i><i style="left:12px;top:34.6px;width:21px;height:1.5px;background:#85878d"></i><i style="left:9px;top:38.2px;width:2px;height:1.6px;background:#e8862a"></i><i style="left:12px;top:38.2px;width:24px;height:1.5px;background:#85878d"></i><i style="left:9px;top:41.8px;width:2px;height:1.6px;background:#e8862a"></i><i style="left:12px;top:41.8px;width:21px;height:1.5px;background:#85878d"></i><i style="left:9px;top:45.4px;width:2px;height:1.6px;background:#e8862a"></i><i style="left:12px;top:45.4px;width:24px;height:1.5px;background:#85878d"></i><i style="left:9px;top:52px;width:2px;height:1.6px;background:#e8862a"></i><i style="left:12px;top:52px;width:22px;height:1.5px;background:#6a6c72"></i><i style="left:9px;top:58.0px;width:16px;height:1.3px;background:#85878d"></i><i style="left:9px;top:61.2px;width:18px;height:1.3px;background:#85878d"></i><i style="left:9px;top:64.4px;width:20px;height:1.3px;background:#85878d"></i><i style="left:9px;top:67.6px;width:16px;height:1.3px;background:#85878d"></i><i style="left:9px;top:70.8px;width:18px;height:1.3px;background:#85878d"></i><i style="left:9px;top:76px;width:2px;height:1.6px;background:#e8862a"></i><i style="left:12px;top:76px;width:26px;height:1.5px;background:#6a6c72"></i><i style="left:9px;top:80.0px;width:34px;height:1.3px;background:#85878d"></i><i style="left:9px;top:83.2px;width:42px;height:1.3px;background:#85878d"></i><i style="left:9px;top:86.4px;width:34px;height:1.3px;background:#85878d"></i><i style="left:9px;top:89.6px;width:42px;height:1.3px;background:#85878d"></i><i style="left:9px;top:92.8px;width:34px;height:1.3px;background:#85878d"></i><i style="left:9px;top:96.0px;width:42px;height:1.3px;background:#85878d"></i><i style="left:9px;top:101px;width:24px;height:1.5px;background:#999"></i><i style="left:0px;top:108px;width:63px;height:10px;background:#1a1a1c"></i><i style="left:1.0px;top:110px;width:3.8px;height:7px;background:#222"></i><i style="left:5.5px;top:110px;width:3.8px;height:7px;background:#6a5a2a"></i><i style="left:10.0px;top:110px;width:3.8px;height:7px;background:#333"></i><i style="left:14.5px;top:110px;width:3.8px;height:7px;background:#eee"></i><i style="left:19.0px;top:110px;width:3.8px;height:7px;background:#ddd"></i><i style="left:23.5px;top:110px;width:3.8px;height:7px;background:#2a2c31"></i><i style="left:28.0px;top:110px;width:3.8px;height:7px;background:#eee"></i><i style="left:32.5px;top:110px;width:3.8px;height:7px;background:#ddd"></i><i style="left:37.0px;top:110px;width:3.8px;height:7px;background:#eee"></i><i style="left:41.5px;top:110px;width:3.8px;height:7px;background:#222"></i><i style="left:46.0px;top:110px;width:3.8px;height:7px;background:#eee"></i><i style="left:50.5px;top:110px;width:3.8px;height:7px;background:#ddd"></i><i style="left:55.0px;top:110px;width:3.8px;height:7px;background:#111"></i><i style="left:59.5px;top:110px;width:3.8px;height:7px;background:#eee"></i><i style="left:4px;top:121px;width:9px;height:1.6px;background:#3b82f6"></i><i style="left:49px;top:121px;width:11px;height:1.6px;background:#3b82f6"></i></div>
<div class="th" style="left:892px;background:#ffffff"><i style="left:0px;top:0px;width:63px;height:9px;background:#3a3a3c"></i><i style="left:3px;top:4px;width:2px;height:2.5px;background:#3a66b8"></i><i style="left:28px;top:2.5px;width:7px;height:1.6px;background:#bbb"></i><i style="left:29px;top:5.5px;width:5px;height:1.2px;background:#888"></i><i style="left:4px;top:14px;width:5px;height:1.2px;background:#85878d"></i><i style="left:56px;top:13px;width:3px;height:2.5px;background:#85878d"></i><i style="left:20px;top:13px;width:24px;height:2px;background:#33353b"></i><i style="left:0px;top:19px;width:63px;height:1px;background:#e6e6ea"></i><i style="left:4px;top:21px;width:7px;height:7px;background:#2a2a30;border-radius:50%"></i><i style="left:13px;top:22px;width:10px;height:1.6px;background:#333"></i><i style="left:13px;top:25px;width:13px;height:1.3px;background:#888"></i><i style="left:48px;top:23px;width:4px;height:4px;background:#777"></i><i style="left:55px;top:23px;width:4px;height:4px;background:#777"></i><i style="left:9px;top:34px;width:30px;height:1.8px;background:#cfd1d6"></i><i style="left:9px;top:42.0px;width:2px;height:1.6px;background:#e8862a"></i><i style="left:12px;top:42.0px;width:26px;height:1.5px;background:#85878d"></i><i style="left:9px;top:45.6px;width:2px;height:1.6px;background:#e8862a"></i><i style="left:12px;top:45.6px;width:23px;height:1.5px;background:#85878d"></i><i style="left:9px;top:49.2px;width:2px;height:1.6px;background:#e8862a"></i><i style="left:12px;top:49.2px;width:26px;height:1.5px;background:#85878d"></i><i style="left:9px;top:52.8px;width:2px;height:1.6px;background:#e8862a"></i><i style="left:12px;top:52.8px;width:23px;height:1.5px;background:#85878d"></i><i style="left:9px;top:56.4px;width:2px;height:1.6px;background:#e8862a"></i><i style="left:12px;top:56.4px;width:26px;height:1.5px;background:#85878d"></i><i style="left:9px;top:66px;width:2px;height:1.6px;background:#e8862a"></i><i style="left:12px;top:66px;width:22px;height:1.5px;background:#6a6c72"></i><i style="left:9px;top:73.0px;width:20px;height:1.3px;background:#85878d"></i><i style="left:9px;top:76.2px;width:23px;height:1.3px;background:#85878d"></i><i style="left:9px;top:79.4px;width:26px;height:1.3px;background:#85878d"></i><i style="left:9px;top:82.6px;width:20px;height:1.3px;background:#85878d"></i><i style="left:9px;top:85.8px;width:23px;height:1.3px;background:#85878d"></i><i style="left:9px;top:89.0px;width:26px;height:1.3px;background:#85878d"></i><i style="left:9px;top:92.2px;width:20px;height:1.3px;background:#85878d"></i><i style="left:9px;top:95.4px;width:23px;height:1.3px;background:#85878d"></i><i style="left:0px;top:108px;width:63px;height:10px;background:#1a1a1c"></i><i style="left:1.0px;top:110px;width:3.8px;height:7px;background:#222"></i><i style="left:5.5px;top:110px;width:3.8px;height:7px;background:#6a5a2a"></i><i style="left:10.0px;top:110px;width:3.8px;height:7px;background:#333"></i><i style="left:14.5px;top:110px;width:3.8px;height:7px;background:#eee"></i><i style="left:19.0px;top:110px;width:3.8px;height:7px;background:#ddd"></i><i style="left:23.5px;top:110px;width:3.8px;height:7px;background:#2a2c31"></i><i style="left:28.0px;top:110px;width:3.8px;height:7px;background:#eee"></i><i style="left:32.5px;top:110px;width:3.8px;height:7px;background:#ddd"></i><i style="left:37.0px;top:110px;width:3.8px;height:7px;background:#eee"></i><i style="left:41.5px;top:110px;width:3.8px;height:7px;background:#222"></i><i style="left:46.0px;top:110px;width:3.8px;height:7px;background:#eee"></i><i style="left:50.5px;top:110px;width:3.8px;height:7px;background:#ddd"></i><i style="left:55.0px;top:110px;width:3.8px;height:7px;background:#111"></i><i style="left:59.5px;top:110px;width:3.8px;height:7px;background:#eee"></i><i style="left:4px;top:121px;width:9px;height:1.6px;background:#3b82f6"></i><i style="left:49px;top:121px;width:11px;height:1.6px;background:#3b82f6"></i></div>
<div class="th" style="left:958px;background:#050403"><i style="left:26px;top:2px;width:11px;height:1.2px;background:#777"></i><i style="left:3px;top:6px;width:57px;height:12.5px;background:#0a0806;border:1.3px solid #8a7a5a;border-radius:7px"></i><i style="left:6px;top:7.5px;width:9.5px;height:9.5px;background:#a08050;border-radius:50%;border:1px solid #c9b88a"></i><i style="left:18px;top:11px;width:22px;height:2px;background:#a8a294"></i><i style="left:53px;top:10.5px;width:3.5px;height:3.5px;background:#bbb;border-radius:50%"></i><i style="left:3px;top:22px;width:57px;height:12.5px;background:#0a0806;border:1.3px solid #8a7a5a;border-radius:7px"></i><i style="left:6px;top:23.5px;width:9.5px;height:9.5px;background:#4a8ad0;border-radius:50%;border:1px solid #c9b88a"></i><i style="left:18px;top:27px;width:27px;height:2px;background:#a8a294"></i><i style="left:53px;top:26.5px;width:3.5px;height:3.5px;background:#bbb;border-radius:50%"></i><i style="left:3px;top:38px;width:57px;height:12.5px;background:#0a0806;border:1.3px solid #8a7a5a;border-radius:7px"></i><i style="left:6px;top:39.5px;width:9.5px;height:9.5px;background:#5aa84a;border-radius:50%;border:1px solid #c9b88a"></i><i style="left:18px;top:43px;width:23px;height:2px;background:#a8a294"></i><i style="left:53px;top:42.5px;width:3.5px;height:3.5px;background:#bbb;border-radius:50%"></i><i style="left:3px;top:54px;width:57px;height:12.5px;background:#0a0806;border:1.3px solid #8a7a5a;border-radius:7px"></i><i style="left:6px;top:55.5px;width:9.5px;height:9.5px;background:#c0503a;border-radius:50%;border:1px solid #c9b88a"></i><i style="left:18px;top:59px;width:28px;height:2px;background:#a8a294"></i><i style="left:53px;top:58.5px;width:3.5px;height:3.5px;background:#bbb;border-radius:50%"></i><i style="left:3px;top:70px;width:57px;height:12.5px;background:#0a0806;border:1.3px solid #8a7a5a;border-radius:7px"></i><i style="left:6px;top:71.5px;width:9.5px;height:9.5px;background:#7a8a9a;border-radius:50%;border:1px solid #c9b88a"></i><i style="left:18px;top:75px;width:24px;height:2px;background:#a8a294"></i><i style="left:53px;top:74.5px;width:3.5px;height:3.5px;background:#bbb;border-radius:50%"></i><i style="left:3px;top:86px;width:57px;height:12.5px;background:#0a0806;border:1.3px solid #8a7a5a;border-radius:7px"></i><i style="left:6px;top:87.5px;width:9.5px;height:9.5px;background:#8a5a6a;border-radius:50%;border:1px solid #c9b88a"></i><i style="left:18px;top:91px;width:29px;height:2px;background:#a8a294"></i><i style="left:53px;top:90.5px;width:3.5px;height:3.5px;background:#bbb;border-radius:50%"></i><i style="left:3px;top:102px;width:57px;height:12.5px;background:#0a0806;border:1.3px solid #8a7a5a;border-radius:7px"></i><i style="left:6px;top:103.5px;width:9.5px;height:9.5px;background:#b09060;border-radius:50%;border:1px solid #c9b88a"></i><i style="left:18px;top:107px;width:25px;height:2px;background:#a8a294"></i><i style="left:53px;top:106.5px;width:3.5px;height:3.5px;background:#bbb;border-radius:50%"></i><i style="left:3px;top:118px;width:57px;height:12.5px;background:#0a0806;border:1.3px solid #8a7a5a;border-radius:7px"></i><i style="left:6px;top:119.5px;width:9.5px;height:9.5px;background:#6a6a8a;border-radius:50%;border:1px solid #c9b88a"></i><i style="left:18px;top:123px;width:30px;height:2px;background:#a8a294"></i><i style="left:53px;top:122.5px;width:3.5px;height:3.5px;background:#bbb;border-radius:50%"></i><i style="left:2px;top:118px;width:24px;height:5px;background:#b8902a;transform:skewY(-12deg)"></i><i style="left:38px;top:118px;width:24px;height:5px;background:#b8902a;transform:skewY(12deg)"></i></div>
<div class="th" style="left:1024px;background:#050403"><i style="left:26px;top:2px;width:11px;height:1.2px;background:#777"></i><i style="left:3px;top:6px;width:57px;height:12.5px;background:#0a0806;border:1.3px solid #8a7a5a;border-radius:7px"></i><i style="left:6px;top:7.5px;width:9.5px;height:9.5px;background:#8a7a6a;border-radius:50%;border:1px solid #c9b88a"></i><i style="left:18px;top:11px;width:22px;height:2px;background:#a8a294"></i><i style="left:53px;top:10.5px;width:3.5px;height:3.5px;background:#bbb;border-radius:50%"></i><i style="left:3px;top:22px;width:57px;height:12.5px;background:#0a0806;border:1.3px solid #8a7a5a;border-radius:7px"></i><i style="left:6px;top:23.5px;width:9.5px;height:9.5px;background:#a07a4a;border-radius:50%;border:1px solid #c9b88a"></i><i style="left:18px;top:27px;width:27px;height:2px;background:#a8a294"></i><i style="left:53px;top:26.5px;width:3.5px;height:3.5px;background:#bbb;border-radius:50%"></i><i style="left:3px;top:38px;width:57px;height:12.5px;background:#0a0806;border:1.3px solid #8a7a5a;border-radius:7px"></i><i style="left:6px;top:39.5px;width:9.5px;height:9.5px;background:#c04a3a;border-radius:50%;border:1px solid #c9b88a"></i><i style="left:18px;top:43px;width:23px;height:2px;background:#a8a294"></i><i style="left:53px;top:42.5px;width:3.5px;height:3.5px;background:#bbb;border-radius:50%"></i><i style="left:3px;top:54px;width:57px;height:12.5px;background:#0a0806;border:1.3px solid #8a7a5a;border-radius:7px"></i><i style="left:6px;top:55.5px;width:9.5px;height:9.5px;background:#2a5aa0;border-radius:50%;border:1px solid #c9b88a"></i><i style="left:18px;top:59px;width:28px;height:2px;background:#a8a294"></i><i style="left:53px;top:58.5px;width:3.5px;height:3.5px;background:#bbb;border-radius:50%"></i><i style="left:3px;top:70px;width:57px;height:12.5px;background:#0a0806;border:1.3px solid #8a7a5a;border-radius:7px"></i><i style="left:6px;top:71.5px;width:9.5px;height:9.5px;background:#6aa09a;border-radius:50%;border:1px solid #c9b88a"></i><i style="left:18px;top:75px;width:24px;height:2px;background:#a8a294"></i><i style="left:53px;top:74.5px;width:3.5px;height:3.5px;background:#bbb;border-radius:50%"></i><i style="left:3px;top:86px;width:57px;height:12.5px;background:#0a0806;border:1.3px solid #8a7a5a;border-radius:7px"></i><i style="left:6px;top:87.5px;width:9.5px;height:9.5px;background:#9a8a7a;border-radius:50%;border:1px solid #c9b88a"></i><i style="left:18px;top:91px;width:29px;height:2px;background:#a8a294"></i><i style="left:53px;top:90.5px;width:3.5px;height:3.5px;background:#bbb;border-radius:50%"></i><i style="left:3px;top:102px;width:57px;height:12.5px;background:#0a0806;border:1.3px solid #8a7a5a;border-radius:7px"></i><i style="left:6px;top:103.5px;width:9.5px;height:9.5px;background:#8a9a6a;border-radius:50%;border:1px solid #c9b88a"></i><i style="left:18px;top:107px;width:25px;height:2px;background:#a8a294"></i><i style="left:53px;top:106.5px;width:3.5px;height:3.5px;background:#bbb;border-radius:50%"></i><i style="left:3px;top:118px;width:57px;height:12.5px;background:#0a0806;border:1.3px solid #8a7a5a;border-radius:7px"></i><i style="left:6px;top:119.5px;width:9.5px;height:9.5px;background:#4a6ab0;border-radius:50%;border:1px solid #c9b88a"></i><i style="left:18px;top:123px;width:30px;height:2px;background:#a8a294"></i><i style="left:53px;top:122.5px;width:3.5px;height:3.5px;background:#bbb;border-radius:50%"></i></div>
<div class="th" style="left:1090px;background:#ffffff"><i style="left:3px;top:4px;width:3px;height:4px;background:#333"></i><i style="left:9px;top:2px;width:7px;height:7px;background:#1a1a2a;border-radius:50%"></i><i style="left:18px;top:4px;width:16px;height:2.2px;background:#222"></i><i style="left:6px;top:11px;width:20px;height:4px;background:#e8f0fc;border-radius:1px"></i><i style="left:8px;top:12.3px;width:14px;height:1.5px;background:#3b6fd0"></i><i style="left:0px;top:19px;width:63px;height:8px;background:#d8dade"></i><i style="left:3px;top:22px;width:8px;height:1.6px;background:#85878d"></i><i style="left:3px;top:30px;width:7px;height:7px;background:#8a3a2a;border-radius:50%"></i><i style="left:12px;top:31px;width:8px;height:1.6px;background:#333"></i><i style="left:12px;top:34px;width:6px;height:1.3px;background:#999"></i><i style="left:0px;top:39px;width:63px;height:50px;background:#c21b6a;background:linear-gradient(160deg,#e02a55,#b0189a 60%,#6a2fd0)"></i><i style="left:14px;top:51px;width:40px;height:2.6px;background:#fff"></i><i style="left:26px;top:57px;width:28px;height:2.6px;background:#fff"></i><i style="left:18px;top:63px;width:36px;height:2.6px;background:#fff"></i><i style="left:14px;top:69px;width:40px;height:2.6px;background:#fff"></i><i style="left:7px;top:94px;width:8px;height:1.5px;background:#8a8d93"></i><i style="left:26px;top:94px;width:8px;height:1.5px;background:#8a8d93"></i><i style="left:0px;top:98px;width:63px;height:1px;background:#e0e2e6"></i><i style="left:3px;top:101px;width:7px;height:7px;background:#8a2a2a;border-radius:50%"></i><i style="left:12px;top:102px;width:12px;height:1.6px;background:#333"></i><i style="left:16px;top:105px;width:4px;height:1.3px;background:#999"></i><i style="left:4px;top:110.0px;width:30px;height:1.2px;background:#85878d"></i><i style="left:4px;top:112.6px;width:30px;height:1.2px;background:#85878d"></i><i style="left:4px;top:115.2px;width:30px;height:1.2px;background:#85878d"></i><i style="left:0px;top:117px;width:63px;height:1px;background:#e0e2e6"></i><i style="left:4px;top:120px;width:5px;height:4px;background:#85878d"></i><i style="left:15px;top:120px;width:4px;height:4px;background:#9a9da3"></i><i style="left:26px;top:120px;width:4px;height:4px;background:#9a9da3"></i><i style="left:28px;top:119px;width:2.5px;height:2.5px;background:#e0343a;border-radius:50%"></i></div>
<div class="abs" style="left:0;top:2054px;width:1125px;height:1px;background:#47474a"></div>
<div id="hapus" class="abs">Hapus</div>
<div id="pulih" class="abs">Pulihkan</div>
<div id="home" class="abs"></div>
</body>
</html>
